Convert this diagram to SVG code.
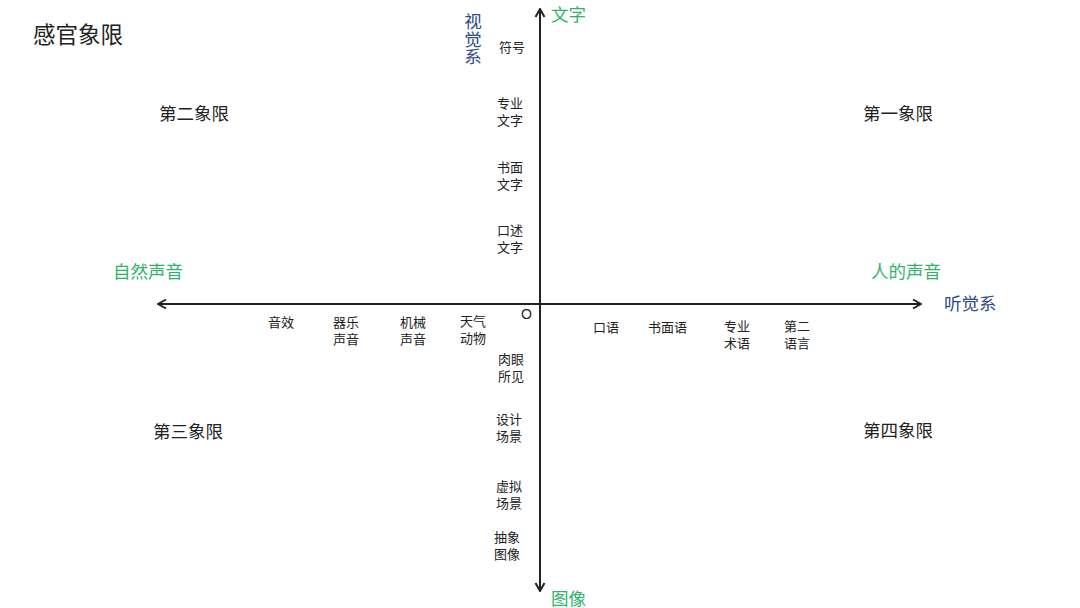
<svg xmlns="http://www.w3.org/2000/svg" width="1080" height="608" viewBox="0 0 1080 608">
<style>
text{font-family:"Noto Sans CJK SC","Liberation Sans",sans-serif;dominant-baseline:central;fill:#222}
.s{font-size:13px}
.q{font-size:17.5px}
.g{font-size:17.5px;fill:#2fb36b}
.b{font-size:17.5px;fill:#2c4a8c}
.t{font-size:22.5px}
.ax{stroke:#222;stroke-width:2;fill:none}
</style>
<defs>
<marker id="arr" viewBox="0 0 12 12" refX="11" refY="6" markerWidth="12" markerHeight="12" markerUnits="userSpaceOnUse" orient="auto">
<polyline points="3,1.5 11,6 3,10.5" fill="none" stroke="#222" stroke-width="2"/>
</marker>
</defs>
<rect width="1080" height="608" fill="#fff"/>
<g id="connectors">
<line class="ax" x1="540" y1="304" x2="540" y2="9" marker-end="url(#arr)"/>
<line class="ax" x1="540" y1="304" x2="540" y2="591" marker-end="url(#arr)"/>
<line class="ax" x1="540" y1="304" x2="921" y2="304" marker-end="url(#arr)"/>
<line class="ax" x1="540" y1="304" x2="158" y2="304" marker-end="url(#arr)"/>
</g>
<g id="title"><text class="t" x="33" y="33">感官象限</text></g>
<g id="q2"><text class="q" x="159" y="112">第二象限</text></g>
<g id="q1"><text class="q" x="863" y="112">第一象限</text></g>
<g id="q3"><text class="q" x="153" y="430">第三象限</text></g>
<g id="q4"><text class="q" x="863" y="429">第四象限</text></g>
<g id="visual"><text class="b" x="473" y="13" style="writing-mode:vertical-rl">视觉系</text></g>
<g id="wenzi"><text class="g" x="551" y="13">文字</text></g>
<g id="tuxiang"><text class="g" x="551" y="597">图像</text></g>
<g id="ziran"><text class="g" x="113" y="270">自然声音</text></g>
<g id="rende"><text class="g" x="871" y="270">人的声音</text></g>
<g id="auditory"><text class="b" x="944" y="302">听觉系</text></g>
<g id="origin"><text x="521" y="314" style="font-family:'Liberation Sans',sans-serif;font-size:14px">O</text></g>
<g id="fuhao"><text class="s" x="499" y="46">符号</text></g>
<g id="zhuanye"><text class="s" x="497" y="102.5">专业</text><text class="s" x="497" y="119.5">文字</text></g>
<g id="shumian"><text class="s" x="497" y="166.5">书面</text><text class="s" x="497" y="183.5">文字</text></g>
<g id="koushu"><text class="s" x="497" y="229.5">口述</text><text class="s" x="497" y="246.5">文字</text></g>
<g id="yinxiao"><text class="s" x="268" y="321">音效</text></g>
<g id="qiyue"><text class="s" x="333" y="321.5">器乐</text><text class="s" x="333" y="338.5">声音</text></g>
<g id="jixie"><text class="s" x="400" y="321.5">机械</text><text class="s" x="400" y="338.5">声音</text></g>
<g id="tianqi"><text class="s" x="460" y="320.5">天气</text><text class="s" x="460" y="337.5">动物</text></g>
<g id="kouyu"><text class="s" x="593" y="326">口语</text></g>
<g id="shumianyu"><text class="s" x="648" y="326">书面语</text></g>
<g id="shuyu"><text class="s" x="724" y="325.5">专业</text><text class="s" x="724" y="342.5">术语</text></g>
<g id="dier"><text class="s" x="784" y="325.5">第二</text><text class="s" x="784" y="342.5">语言</text></g>
<g id="rouyan"><text class="s" x="498" y="358">肉眼</text><text class="s" x="498" y="375">所见</text></g>
<g id="sheji"><text class="s" x="496" y="418.5">设计</text><text class="s" x="496" y="435.5">场景</text></g>
<g id="xuni"><text class="s" x="496" y="485.5">虚拟</text><text class="s" x="496" y="502.5">场景</text></g>
<g id="chouxiang"><text class="s" x="494" y="536.5">抽象</text><text class="s" x="494" y="553.5">图像</text></g>
</svg>
